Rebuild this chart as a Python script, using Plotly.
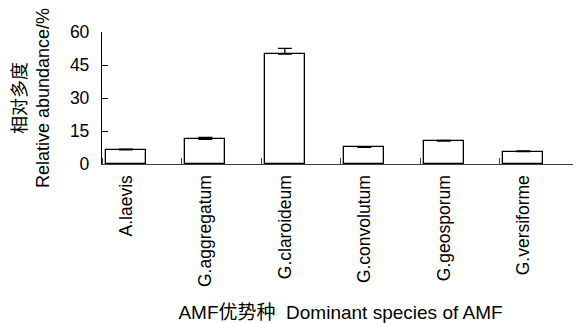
import plotly.graph_objects as go

species = ["A.laevis", "G.aggregatum", "G.claroideum", "G.convolutum", "G.geosporum", "G.versiforme"]
abundance = [6.4, 11.2, 49.9, 7.6, 10.4, 5.6]
error_up = [0.3, 0.9, 2.7, 0.2, 0.3, 0.3]
y_ticks = [0, 15, 30, 45, 60]

pos = [i + 0.3 for i in range(len(species))]
bounds = list(range(len(species) + 1))

FONT = "Liberation Sans, Arial, Noto Sans CJK SC, sans-serif"

fig = go.Figure()
fig.add_trace(go.Bar(
    x=pos, y=abundance, width=0.5,
    marker=dict(color="white", line=dict(color="black", width=1.3)),
    error_y=dict(type="data", array=error_up, arrayminus=[0]*len(error_up), symmetric=False,
                 color="black", thickness=1.3, width=7),
    showlegend=False,
))

fig.update_layout(
    width=573, height=315,
    margin=dict(l=94, r=2, t=24, b=159),
    paper_bgcolor="white", plot_bgcolor="white",
    font=dict(family=FONT, size=17, color="black"),
    bargap=0,
)
fig.update_xaxes(
    range=[0, 6], tickmode="array", tickvals=pos, ticktext=species,
    tickangle=-90, ticks="", showgrid=False, zeroline=False,
    showline=True, linecolor="#404040", linewidth=1.3,
    tickfont=dict(size=17.5), ticklabelstandoff=3,
    minor=dict(tickmode="array", tickvals=bounds, ticks="inside", ticklen=6,
               tickcolor="#404040", tickwidth=1.3, showgrid=False),
    title=dict(text="AMF优势种  Dominant species of AMF", font=dict(size=19), standoff=19),
    automargin=False,
)
fig.update_yaxes(
    range=[0, 60], tickmode="array", tickvals=y_ticks,
    ticks="inside", ticklen=6, tickcolor="black", tickwidth=1.3,
    showgrid=False, zeroline=False, showline=True, linecolor="black", linewidth=1.3,
    tickfont=dict(size=17.5), ticklabelstandoff=8,
    title=dict(text="相对多度<br>Relative abundance/%", font=dict(size=18), standoff=15),
    automargin=False,
)

fig.write_html("out.html")
